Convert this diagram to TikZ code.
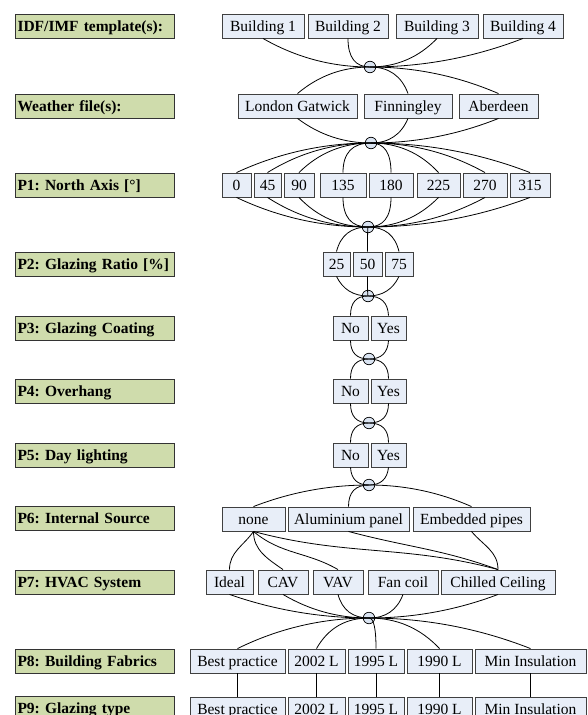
\documentclass[tikz,border=0pt]{standalone}
\usepackage{fontspec}
\setmainfont{Liberation Serif}
\usetikzlibrary{calc}
\definecolor{labgreen}{RGB}{207,220,172}
\definecolor{optblue}{RGB}{232,238,248}
\definecolor{hubblue}{RGB}{218,228,242}
\frenchspacing

\begin{document}
\begin{tikzpicture}[
  x=1pt, y=-1pt,
  font=\fontsize{15.5}{18}\selectfont,
  lab/.style={draw=black!80, fill=labgreen, line width=0.9pt, minimum height=24pt,
    text width=154pt, inner xsep=2.5pt, inner ysep=0pt, align=left,
    text height=13pt, text depth=2pt,
    font=\fontsize{15.5}{18}\selectfont\bfseries},
  opt/.style={draw=black!75, fill=optblue, line width=0.9pt, minimum height=24pt,
    inner sep=0pt, text height=13pt, text depth=2pt},
  hub/.style={draw, circle, fill=hubblue, minimum size=11.5pt, inner sep=0pt, line width=0.7pt},
  rel/.style={line width=0.8pt},
  hubl/.style={to path={let \p1=(\tikztostart), \p2=(\tikztotarget),
      \n1={min(1,0.5+0.5*(min(2,abs(\y2-\y1)/(abs(\x1-\x2)+0.1)))^2)} in
    .. controls ({\x1+2/3*(\x2+\n1*(\x1-\x2)-\x1)},{\y1+2/3*(\y2-\y1)})
       and ({\x2+2/3*\n1*(\x1-\x2)},\y2) .. (\tikztotarget)}}
]
\useasboundingbox (0,0) rectangle (587,715);

% parameter labels
\node[lab] (lidf) at (94.5,26) {IDF/IMF template(s):};
\node[lab] (lwea) at (94.5,106) {Weather file(s):};
\node[lab] (lp1) at (94.5,185) {P1: North Axis [°]};
\node[lab] (lp2) at (94.5,264) {P2: Glazing Ratio [\%]};
\node[lab] (lp3) at (94.5,328) {P3: Glazing Coating};
\node[lab] (lp4) at (94.5,391) {P4: Overhang};
\node[lab] (lp5) at (94.5,455) {P5: Day lighting};
\node[lab] (lp6) at (94.5,518) {P6: Internal Source};
\node[lab] (lp7) at (94.5,582) {P7: HVAC System};
\node[lab] (lp8) at (94.5,661) {P8: Building Fabrics};
\node[lab] (lp9) at (94.5,708) {P9: Glazing type};

% hubs
\node[hub] (h1) at (370,67) {};
\node[hub] (h2) at (371,143) {};
\node[hub] (h3) at (368,227) {};
\node[hub] (h4) at (368,296) {};
\node[hub] (h5) at (369,359) {};
\node[hub] (h6) at (369,423) {};
\node[hub] (h7) at (369,485) {};
\node[hub] (h8) at (369,618) {};

% templates and weather
\node[opt, minimum width=82pt] (b1) at (263,26) {Building 1};
\node[opt, minimum width=80pt] (b2) at (348,26) {Building 2};
\node[opt, minimum width=82pt] (b3) at (437,26) {Building 3};
\node[opt, minimum width=80pt] (b4) at (523,26) {Building 4};
\node[opt, minimum width=119pt] (w1) at (297.5,106) {London Gatwick};
\node[opt, minimum width=88pt] (w2) at (408,106) {Finningley};
\node[opt, minimum width=79pt] (w3) at (498.5,106) {Aberdeen};

% P1 .. P5
\node[opt, minimum width=29pt] (ax0) at (236.5,185) {0};
\node[opt, minimum width=27pt] (ax45) at (267.5,185) {45};
\node[opt, minimum width=30pt] (ax90) at (299,185) {90};
\node[opt, minimum width=46pt] (ax135) at (343,185) {135};
\node[opt, minimum width=44pt] (ax180) at (391,185) {180};
\node[opt, minimum width=43pt] (ax225) at (438.5,185) {225};
\node[opt, minimum width=44pt] (ax270) at (485,185) {270};
\node[opt, minimum width=40pt] (ax315) at (530,185) {315};
\node[opt, minimum width=27pt] (gr25) at (336.5,264) {25};
\node[opt, minimum width=29pt] (gr50) at (367.5,264) {50};
\node[opt, minimum width=28pt] (gr75) at (399,264) {75};
\node[opt, minimum width=35pt] (gcno) at (350.5,328) {No};
\node[opt, minimum width=35pt] (gcyes) at (388.5,328) {Yes};
\node[opt, minimum width=35pt] (ovno) at (350.5,391) {No};
\node[opt, minimum width=35pt] (ovyes) at (388.5,391) {Yes};
\node[opt, minimum width=35pt] (dlno) at (350.5,455) {No};
\node[opt, minimum width=35pt] (dlyes) at (388.5,455) {Yes};

% P6 .. P9
\node[opt, minimum width=63pt] (isnone) at (253.5,519) {none};
\node[opt, minimum width=121pt] (isalu) at (348.5,519) {Aluminium panel};
\node[opt, minimum width=117pt] (isemb) at (471.5,519) {Embedded pipes};
\node[opt, minimum width=47pt] (hvideal) at (229.5,582) {Ideal};
\node[opt, minimum width=50pt] (hvcav) at (283,582) {CAV};
\node[opt, minimum width=50pt] (hvvav) at (338,582) {VAV};
\node[opt, minimum width=70pt] (hvfan) at (403,582) {Fan coil};
\node[opt, minimum width=114pt] (hvchill) at (498,582) {Chilled Ceiling};
\node[opt, minimum width=95pt] (bfbest) at (237.5,661) {Best practice};
\node[opt, minimum width=57pt] (bf2002) at (316.5,661) {2002 L};
\node[opt, minimum width=56pt] (bf1995) at (376,661) {1995 L};
\node[opt, minimum width=65pt] (bf1990) at (439.5,661) {1990 L};
\node[opt, minimum width=111pt] (bfmin) at (530.5,661) {Min Insulation};
\node[opt, minimum width=95pt] (gtbest) at (237.5,709) {Best practice};
\node[opt, minimum width=57pt] (gt2002) at (316.5,709) {2002 L};
\node[opt, minimum width=56pt] (gt1995) at (376,709) {1995 L};
\node[opt, minimum width=65pt] (gt1990) at (439.5,709) {1990 L};
\node[opt, minimum width=111pt] (gtmin) at (530.5,709) {Min Insulation};

% combinations through the hubs
\foreach \n in {b1,b2,b3,b4} \draw[rel] (\n.south) to[hubl] (h1.center);
\foreach \n in {w1,w2,w3} {
  \draw[rel] (\n.north) to[hubl] (h1.center);
  \draw[rel] (\n.south) to[hubl] (h2.center);
}
\foreach \n in {ax0,ax45,ax90,ax135,ax180,ax225,ax270,ax315} {
  \draw[rel] (\n.north) to[hubl] (h2.center);
  \draw[rel] (\n.south) to[hubl] (h3.center);
}
\foreach \n in {gr25,gr50,gr75} {
  \draw[rel] (\n.north) to[hubl] (h3.center);
  \draw[rel] (\n.south) to[hubl] (h4.center);
}
\foreach \n/\a/\b in {gcno/h4/h5,gcyes/h4/h5,ovno/h5/h6,ovyes/h5/h6,dlno/h6/h7,dlyes/h6/h7} {
  \draw[rel] (\n.north) to[hubl] (\a.center);
  \draw[rel] (\n.south) to[hubl] (\b.center);
}
\foreach \n in {isnone,isalu,isemb} \draw[rel] (\n.north) to[hubl] (h7.center);

% internal source -> HVAC
\draw[rel] (isnone.south) to[out=-125, in=90] (hvideal.north);
\draw[rel] (isnone.south) to[out=-90, in=145] (hvcav.north);
\draw[rel] (isnone.south) to[out=-40, in=150] (hvvav.north);
\draw[rel] (isnone.south) to[out=-15, in=165] (hvchill.north);
\draw[rel] (isalu.south) to[out=-15, in=160] (hvchill.north);
\draw[rel] (isemb.south) to[out=-50, in=90] (hvchill.north);

\foreach \n in {hvideal,hvcav,hvvav,hvfan,hvchill} \draw[rel] (\n.south) to[hubl] (h8.center);
\foreach \n in {bfbest,bf2002,bf1995,bf1990,bfmin} \draw[rel] (\n.north) to[hubl] (h8.center);

% fabrics -> glazing
\draw[rel] (bfbest.south) -- (gtbest.north);
\draw[rel] (bf2002.south) -- (gt2002.north);
\draw[rel] (bf1995.south) -- (gt1995.north);
\draw[rel] (bf1990.south) -- (gt1990.north);
\draw[rel] (bfmin.south) -- (gtmin.north);
\end{tikzpicture}
\end{document}
